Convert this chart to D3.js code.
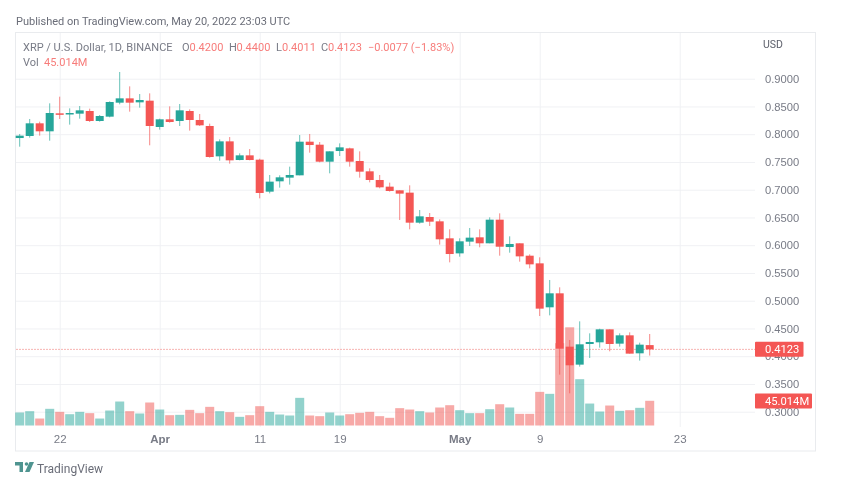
<!DOCTYPE html>
<html>
<head>
<meta charset="utf-8">
<script src="https://cdn.jsdelivr.net/npm/d3@7"></script>
<style>
  html, body { margin: 0; padding: 0; background: #fff; }
  svg { display: block; filter: blur(0.6px); font-family: Roboto, sans-serif; }
</style>
</head>
<body>
<svg id="chart" width="853" height="477"></svg>
<script>
const days = [
  "03-18","03-19","03-20","03-21","03-22","03-23","03-24","03-25","03-26","03-27","03-28","03-29","03-30","03-31",
  "04-01","04-02","04-03","04-04","04-05","04-06","04-07","04-08","04-09","04-10","04-11","04-12","04-13","04-14","04-15",
  "04-16","04-17","04-18","04-19","04-20","04-21","04-22","04-23","04-24","04-25","04-26","04-27","04-28","04-29","04-30",
  "05-01","05-02","05-03","05-04","05-05","05-06","05-07","05-08","05-09","05-10","05-11","05-12","05-13","05-14","05-15",
  "05-16","05-17","05-18","05-19","05-20"
];
const opens = [
  .7931,.7968,.8196,.8052,.8376,.8358,.8370,.8418,.8238,.8316,.8568,.8646,.8574,.8604,
  .8130,.8268,.8238,.8418,.8256,.8148,.7601,.7871,.7535,.7619,.7541,.6965,.7151,.7217,.7259,
  .7865,.7811,.7505,.7697,.7745,.7517,.7331,.7175,.7055,.6989,.6947,.6406,.6508,.6430,.6124,
  .5853,.6064,.6142,.6034,.6460,.5967,.6034,.5811,.5673,.4881,.5133,.4172,.3848,.4220,.4250,
  .4484,.4226,.4376,.4052,.4200
];
const highs = [
  .8004,.8274,.8226,.8556,.8676,.8466,.8508,.8460,.8346,.8592,.9121,.8862,.8724,.8736,
  .8280,.8502,.8544,.8448,.8364,.8190,.7907,.7949,.7655,.7733,.7559,.7265,.7259,.7415,.7985,
  .8004,.7859,.7691,.7835,.7757,.7691,.7385,.7265,.7127,.6989,.7079,.6634,.6580,.6466,.6286,
  .6124,.6310,.6286,.6502,.6574,.6160,.6034,.5835,.5782,.5373,.5241,.4292,.4628,.4412,.4496,
  .4484,.4412,.4430,.4244,.4400
];
const lows = [
  .7775,.7938,.7974,.7883,.8274,.8172,.8280,.8220,.8226,.8304,.8538,.8406,.8478,.7800,
  .8082,.8208,.8148,.8064,.8148,.7577,.7523,.7469,.7529,.7529,.6844,.6934,.7037,.7091,.7259,
  .7667,.7493,.7295,.7607,.7415,.7217,.7133,.7025,.6965,.6454,.6286,.6388,.6346,.6010,.5691,
  .5793,.5986,.5962,.6034,.5811,.5865,.5703,.5583,.4724,.4736,.3667,.3331,.3812,.3968,.4154,
  .4088,.4172,.4046,.3920,.4011
];
const closes = [
  .7974,.8196,.8052,.8382,.8352,.8382,.8430,.8238,.8328,.8580,.8646,.8568,.8616,.8148,
  .8268,.8220,.8430,.8256,.8160,.7589,.7871,.7529,.7619,.7535,.6941,.7145,.7223,.7265,.7865,
  .7805,.7505,.7691,.7763,.7505,.7325,.7175,.7043,.6977,.6929,.6406,.6520,.6424,.6106,.5841,
  .6070,.6136,.6034,.6460,.5973,.6022,.5799,.5655,.4857,.5133,.4136,.3836,.4214,.4256,.4484,
  .4220,.4376,.4046,.4208,.4123
];
const volumes = [
  23.7,26.1,12.7,30.4,24.9,20.6,24.9,22.5,12.7,27.3,43.7,26.1,21.9,41.9,
  29.1,18.8,19.4,28.5,22.5,34.0,26.1,24.3,15.8,18.8,35.2,24.9,20.0,18.2,50.4,
  18.2,17.0,23.7,18.2,20.6,23.1,24.9,17.0,14.0,31.6,29.1,26.1,23.7,32.8,37.0,
  27.9,22.5,22.5,29.7,38.8,32.8,21.2,21.2,61.3,57.7,150,179,84.4,40.0,25.5,
  36.4,26.7,27.9,32.2,45.014
];
const priceTicks = [0.30,0.35,0.40,0.45,0.50,0.55,0.60,0.65,0.70,0.75,0.80,0.85,0.90];
const timeTicks = ["03-22","04-01","04-11","04-19","05-01","05-09","05-23"];
const timeLabels = ["22","Apr","11","19","May","9","23"];
const legendItems = [
  ["O", "0.4200", 182, 189.5],
  ["H", "0.4400", 229, 236.5],
  ["L", "0.4011", 276, 282],
  ["C", "0.4123", 321, 328]
];

const UP = "#26a69a", DOWN = "#f45654", GRID = "#f0f1f4", TXT = "#787b86";
const parseDay = d3.utcParse("%Y-%m-%d");
const toDate = d => parseDay("2022-" + d);

const svg = d3.select("#chart");
const paneRight = 755, paneBottom = 427;

const x = d3.scaleUtc()
  .domain([toDate("03-22"), toDate("05-23")])
  .range([59.7, 679.7]);
const y = d3.scaleLinear().domain([0.30, 0.90]).range([411.7, 78.7]);
const yVol = d3.scaleLinear().domain([0, 45.014]).range([425.5, 400.8]);

const candles = days.map((d, i) => ({
  date: toDate(d), o: opens[i], h: highs[i], l: lows[i], c: closes[i], v: volumes[i]
}));
const isUp = d => d.c >= d.o;

// frame
svg.append("rect")
  .attr("x", 15.5).attr("y", 32.5).attr("width", 800).attr("height", 418.5)
  .attr("fill", "none").attr("stroke", "#e9ebee");

// vertical grid + time labels
const xAxis = svg.append("g")
  .attr("transform", `translate(0,${paneBottom})`)
  .call(d3.axisBottom(x)
    .tickValues(timeTicks.map(toDate))
    .tickSize(-(paneBottom - 33))
    .tickPadding(8)
    .tickFormat((d, i) => timeLabels[i]));
xAxis.select(".domain").remove();
xAxis.selectAll("line").attr("stroke", GRID);
xAxis.selectAll("text")
  .attr("fill", TXT).attr("font-size", 11.5)
  .attr("font-weight", (d, i) => (timeLabels[i] === "Apr" || timeLabels[i] === "May") ? 700 : 400);

// horizontal grid + price labels
const yAxis = svg.append("g")
  .attr("transform", `translate(${paneRight},0)`)
  .call(d3.axisRight(y)
    .tickValues(priceTicks)
    .tickSize(-(paneRight - 16))
    .tickPadding(10)
    .tickFormat(d3.format(".4f")));
yAxis.select(".domain").remove();
yAxis.selectAll("line").attr("stroke", GRID);
yAxis.selectAll("text").attr("fill", TXT).attr("font-size", 11.2);

// volume
svg.append("g").selectAll("rect").data(candles).join("rect")
  .attr("x", d => x(d.date) - 4.5)
  .attr("width", 9)
  .attr("y", d => yVol(d.v))
  .attr("height", d => yVol(0) - yVol(d.v))
  .attr("fill", d => isUp(d) ? UP : "#ef5350")
  .attr("opacity", 0.5);

// last price line
svg.append("line")
  .attr("x1", 16).attr("x2", paneRight)
  .attr("y1", y(closes[closes.length - 1])).attr("y2", y(closes[closes.length - 1]))
  .attr("stroke", "#f7b4b2").attr("stroke-dasharray", "2 1");

// candles
const candle = svg.append("g").selectAll("g").data(candles).join("g");
candle.append("line")
  .attr("x1", d => x(d.date)).attr("x2", d => x(d.date))
  .attr("y1", d => y(d.h)).attr("y2", d => y(d.l))
  .attr("stroke", d => isUp(d) ? UP : DOWN)
  .attr("stroke-opacity", 0.7);
candle.append("rect")
  .attr("x", d => x(d.date) - 4)
  .attr("width", 8)
  .attr("y", d => y(Math.max(d.o, d.c)))
  .attr("height", d => Math.max(1.5, Math.abs(y(d.o) - y(d.c))))
  .attr("fill", d => isUp(d) ? UP : DOWN);

// right side tags
const lastClose = closes[closes.length - 1];
const lastVol = volumes[volumes.length - 1];
const tag = (cy, w, label) => {
  svg.append("rect")
    .attr("x", paneRight).attr("y", cy - 7.5).attr("width", w).attr("height", 15).attr("rx", 1)
    .attr("fill", DOWN);
  svg.append("text")
    .attr("x", paneRight + 10).attr("y", cy + 4)
    .attr("fill", "#fff").attr("font-size", 11.2).text(label);
};
tag(y(lastClose), 48.5, d3.format(".4f")(lastClose));
tag(yVol(0) - 24.5, 57, d3.format(".3f")(lastVol) + "M");

svg.append("text").attr("x", 763).attr("y", 48)
  .attr("fill", "#5d606b").attr("font-size", 10.5).text("USD");

// header + legend
svg.append("text").attr("x", 16).attr("y", 25)
  .attr("fill", "#6a6d78").attr("font-size", 11)
  .text("Published on TradingView.com, May 20, 2022 23:03 UTC");
svg.append("text").attr("x", 23).attr("y", 50.5)
  .attr("fill", TXT).attr("font-size", 11)
  .text("XRP / U.S. Dollar, 1D, BINANCE");
const legend = svg.append("g").attr("font-size", 11);
legendItems.forEach(([k, v, kx, vx]) => {
  legend.append("text").attr("x", kx).attr("y", 50.5).attr("fill", TXT).text(k);
  legend.append("text").attr("x", vx).attr("y", 50.5).attr("fill", "#f77c7a").text(v);
});
legend.append("text").attr("x", 368).attr("y", 50.5).attr("fill", "#f77c7a").text("\u22120.0077 (\u22121.83%)");
svg.append("text").attr("x", 23).attr("y", 66)
  .attr("fill", TXT).attr("font-size", 11).text("Vol");
svg.append("text").attr("x", 44).attr("y", 66)
  .attr("fill", "#f77c7a").attr("font-size", 11).text(d3.format(".3f")(lastVol) + "M");

// logo
const logo = svg.append("g").attr("fill", "#4f9490");
logo.append("path").attr("d", "M15 462h8v10h-3.5v-6.5H15z");
logo.append("circle").attr("cx", 26.5).attr("cy", 464).attr("r", 1.8);
logo.append("path").attr("d", "M29.5 462h4.5l-4.5 10h-4.5z");
svg.append("text").attr("x", 37).attr("y", 472.5)
  .attr("fill", "#6a6d78").attr("font-size", 12).text("TradingView");
</script>
</body>
</html>
